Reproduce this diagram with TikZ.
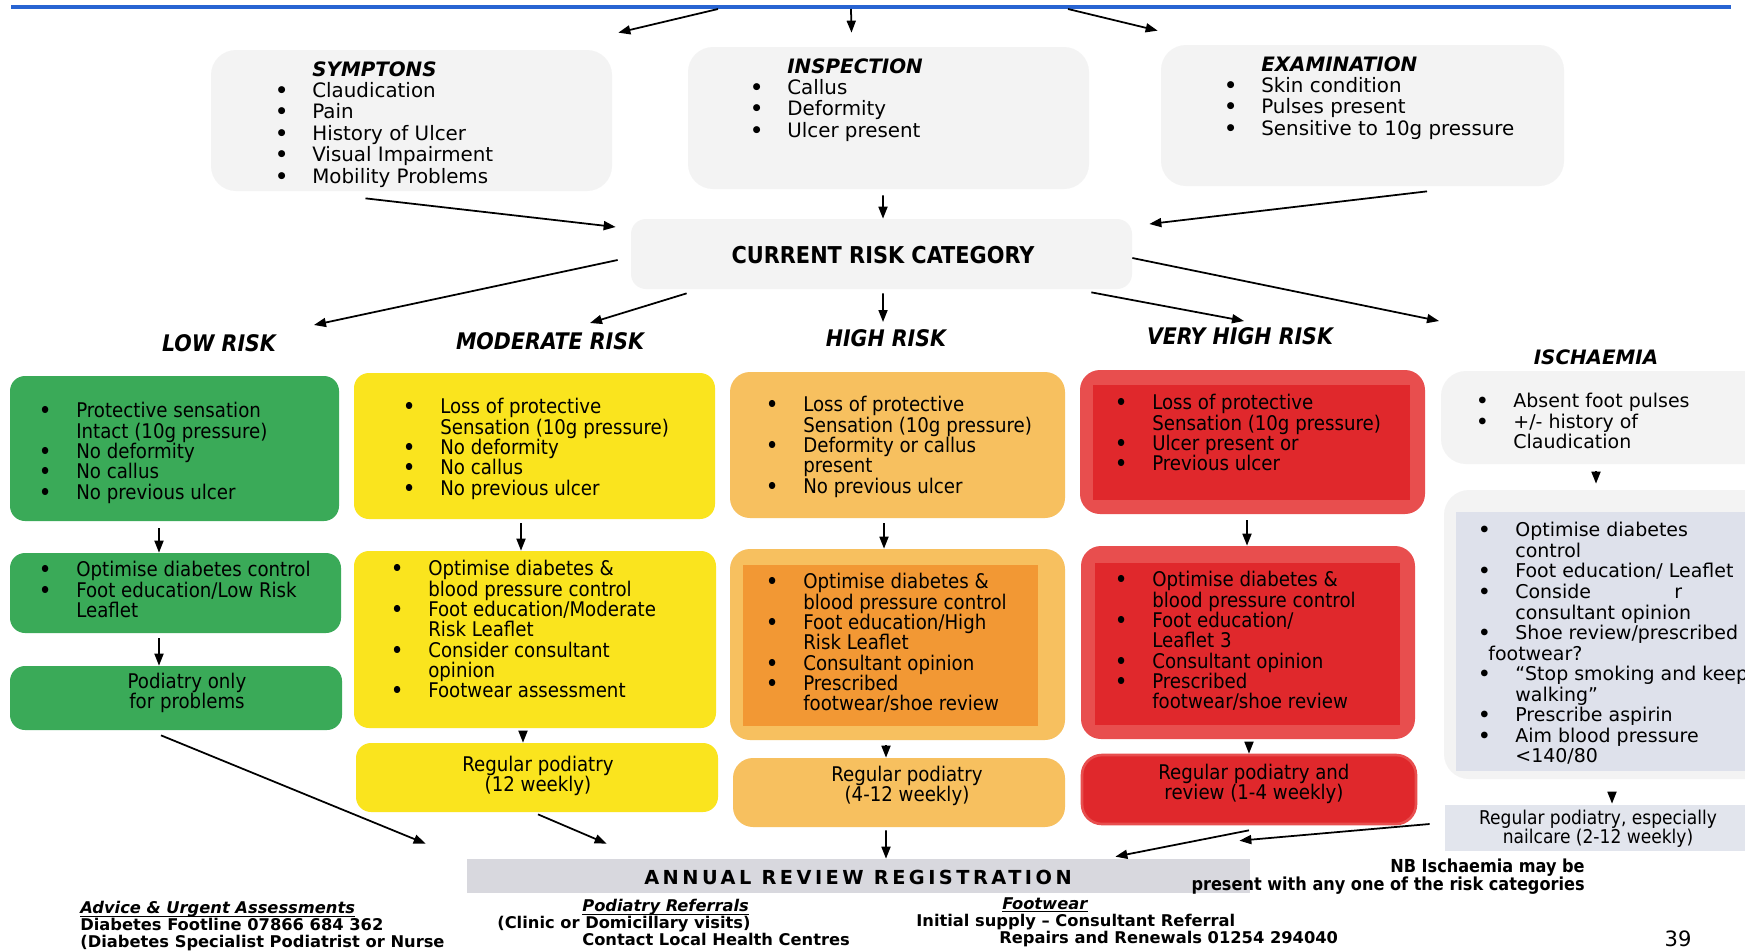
\documentclass[tikz,border=0pt]{standalone}
\usepackage{fontspec}
\setmainfont{DejaVu Sans}
\newfontfamily\tah[Ligatures=TeX]{DejaVu Sans Condensed}
\newfontfamily\tahw[Ligatures=TeX,FakeStretch=1.12]{DejaVu Sans Condensed}
\usetikzlibrary{arrows.meta,fit,calc}

\definecolor{topblue}{RGB}{40,100,210}
\definecolor{boxgrey}{RGB}{243,243,243}
\definecolor{lowgreen}{RGB}{58,170,88}
\definecolor{modyellow}{RGB}{250,228,30}
\definecolor{highlight}{RGB}{247,192,95}
\definecolor{highdark}{RGB}{242,152,52}
\definecolor{vhout}{RGB}{232,78,78}
\definecolor{vhin}{RGB}{224,40,44}
\definecolor{iscblue}{RGB}{222,225,235}
\definecolor{anngrey}{RGB}{216,216,222}

\newcommand{\bl}{\makebox[0.74cm][l]{\textbf{\textbullet}}}
\newcommand{\ct}{\hspace*{0.74cm}}
\newcommand{\tightlines}{\lineskiplimit=-20pt\relax\lineskip=0pt\relax}
\newcommand{\ftitle}[1]{\underline{\smash{\textit{#1}}}\vphantom{\textit{#1}}}

\tikzset{
  arr/.style={-{Triangle[length=2.4mm,width=1.8mm]}, line width=1pt},
  greybox/.style={fill=boxgrey, rounded corners=0.5cm, inner sep=0pt},
  lowbox/.style={fill=lowgreen, rounded corners=0.3cm, inner sep=0pt},
  modbox/.style={fill=modyellow, rounded corners=0.3cm, inner sep=0pt},
  highbox/.style={fill=highlight, rounded corners=0.4cm, inner sep=0pt},
  vhbox/.style={fill=vhout, rounded corners=0.4cm, inner sep=0pt},
  inbox/.style={inner sep=0pt},
  vtext/.style={inner sep=0pt, align=left, anchor=north west, font=\fontsize{11.3}{12.2}\selectfont},
  itext/.style={inner sep=0pt, align=left, anchor=north west, font=\fontsize{10.8}{11.7}\selectfont},
  ttext/.style={inner sep=0pt, align=left, anchor=north west, font=\tah\fontsize{11.5}{11.6}\selectfont},
  ctext/.style={inner sep=0pt, align=center, font=\tah\fontsize{11.5}{11.6}\selectfont},
  riskhead/.style={inner sep=0pt, font=\tah\bfseries\itshape\fontsize{13}{14}\selectfont},
  foot/.style={inner sep=0pt, align=left, anchor=north west, font=\tahw\bfseries\fontsize{9.2}{9.7}\selectfont\tightlines}
}

\begin{document}
\begin{tikzpicture}[x=0.02cm,y=-0.02cm]
\clip (0,0) rectangle (1745,951);
\fill[white] (0,0) rectangle (1745,951);

% top line
\draw[topblue, line width=1.8pt] (11,7) -- (1731,7);
\coordinate (ta) at (718,9);
\coordinate (tb) at (851,9);
\coordinate (tc) at (1068,9);

% assessment
\node[greybox, fit={(211,50)(612,191)}] (sym) {};
\node[greybox, fit={(688,47)(1089,189)}] (insp) {};
\node[greybox, fit={(1161,45)(1564,186)}] (exam) {};
\node[vtext] (symt) at (275,61) {\ct\textbf{\textit{SYMPTONS}}\\ \bl Claudication\\ \bl Pain\\ \bl History of Ulcer\\ \bl Visual Impairment\\ \bl Mobility Problems};
\node[vtext] (inspt) at (750,58) {\ct\textbf{\textit{INSPECTION}}\\ \bl Callus\\ \bl Deformity\\ \bl Ulcer present};
\node[vtext] (examt) at (1224,56) {\ct\textbf{\textit{EXAMINATION}}\\ \bl Skin condition\\ \bl Pulses present\\ \bl Sensitive to 10g pressure};

\node[greybox, rounded corners=0.3cm, fit={(631,219)(1132,289)}] (cur) {};
\node[inner sep=0pt, font=\tah\bfseries\fontsize{13.2}{14}\selectfont] (curt) at (883,255) {CURRENT RISK CATEGORY};

% headings
\node[riskhead] (lowh) at (219,343) {LOW RISK};
\node[riskhead] (modh) at (550,341) {MODERATE RISK};
\node[riskhead] (highh) at (886,338) {HIGH RISK};
\node[riskhead] (vhh) at (1240,336) {VERY HIGH RISK};
\node[inner sep=0pt, font=\bfseries\itshape\fontsize{11.3}{13}\selectfont] (isch) at (1596,357) {ISCHAEMIA};

% low risk
\node[lowbox, fit={(10,376)(339,521)}] (low1) {};
\node[lowbox, fit={(10,553)(341,633)}] (low2) {};
\node[lowbox, fit={(10,666)(342,730)}] (low3) {};
\node[ttext] (low1t) at (39,402) {\bl Protective sensation\\ \ct Intact (10g pressure)\\ \bl No deformity\\ \bl No callus\\ \bl No previous ulcer};
\node[ttext] (low2t) at (39,561) {\bl Optimise diabetes control\\ \bl Foot education/Low Risk\\ \ct Leaflet};
\node[ctext] (low3t) at (187,693) {Podiatry only\\for problems};

% moderate risk
\node[modbox, fit={(354,373)(715,519)}] (mod1) {};
\node[modbox, fit={(354,551)(716,728)}] (mod2) {};
\node[modbox, fit={(356,743)(718,812)}] (mod3) {};
\node[ttext] (mod1t) at (403,398) {\bl Loss of protective\\ \ct Sensation (10g pressure)\\ \bl No deformity\\ \bl No callus\\ \bl No previous ulcer};
\node[ttext] (mod2t) at (391,560) {\bl Optimise diabetes \&\\ \ct blood pressure control\\ \bl Foot education/Moderate\\ \ct Risk Leaflet\\ \bl Consider consultant\\ \ct opinion\\ \bl Footwear assessment};
\node[ctext] (mod3t) at (538,776) {Regular podiatry\\(12 weekly)};

% high risk
\node[highbox, fit={(730,372)(1065,518)}] (high1) {};
\node[highbox, fit={(730,549)(1065,740)}] (high2) {};
\node[inbox, fill=highdark, fit={(743,565)(1038,726)}] (high2in) {};
\node[highbox, fit={(733,758)(1065,827)}] (high3) {};
\node[ttext] (high1t) at (766,396) {\bl Loss of protective\\ \ct Sensation (10g pressure)\\ \bl Deformity or callus\\ \ct present\\ \bl No previous ulcer};
\node[ttext] (high2t) at (766,573) {\bl Optimise diabetes \&\\ \ct blood pressure control\\ \bl Foot education/High\\ \ct Risk Leaflet\\ \bl Consultant opinion\\ \bl Prescribed\\ \ct footwear/shoe review};
\node[ctext] (high3t) at (907,786) {Regular podiatry\\(4-12 weekly)};

% very high risk
\node[vhbox, fit={(1080,370)(1425,514)}] (vh1) {};
\node[inbox, fill=vhin, fit={(1093,385)(1410,500)}] (vh1in) {};
\node[vhbox, fit={(1081,546)(1415,739)}] (vh2) {};
\node[inbox, fill=vhin, fit={(1095,563)(1400,725)}] (vh2in) {};
\node[vhbox, fill=vhin, draw=vhout, line width=1.5pt, fit={(1082,755)(1416,824)}] (vh3) {};
\node[ttext] (vh1t) at (1115,394) {\bl Loss of protective\\ \ct Sensation (10g pressure)\\ \bl Ulcer present or\\ \bl Previous ulcer};
\node[ttext] (vh2t) at (1115,571) {\bl Optimise diabetes \&\\ \ct blood pressure control\\ \bl Foot education/\\ \ct Leaflet 3\\ \bl Consultant opinion\\ \bl Prescribed\\ \ct footwear/shoe review};
\node[ctext] (vh3t) at (1254,784) {Regular podiatry and\\review (1-4 weekly)};

% ischaemia
\node[greybox, fit={(1441,371)(1770,464)}] (isc1) {};
\node[greybox, fit={(1444,490)(1770,779)}] (isc2) {};
\node[inbox, fill=iscblue, fit={(1456,512)(1770,771)}] (isc2in) {};
\node[inbox, fill=iscblue!80!boxgrey, fit={(1445,805)(1770,851)}] (isc3) {};
\node[itext] (isc1t) at (1476,393) {\bl Absent foot pulses\\ \bl +/- history of\\ \ct Claudication};
\node[itext] (isc2t) at (1478,522) {\bl Optimise diabetes\\ \ct control\\ \bl Foot education/ Leaflet\\ \bl \makebox[3.18cm][l]{Conside}r\\ \ct consultant opinion\\ \bl Shoe review/prescribed\\ \hspace*{0.2cm}footwear?\\ \bl “Stop smoking and keep\\ \ct walking”\\ \bl Prescribe aspirin\\ \bl Aim blood pressure\\ \ct <140/80};
\node[ctext, font=\tah\fontsize{10.8}{11}\selectfont] (isc3t) at (1598,829) {Regular podiatry, especially\\nailcare (2-12 weekly)};

% annual review
\node[inbox, fill=anngrey, fit={(467,859)(1250,893)}] (ann) {};
\node[inner sep=0pt, font=\bfseries\fontsize{11}{13}\selectfont\addfontfeatures{LetterSpace=18}] (annt) at (858,877) {ANNUAL REVIEW REGISTRATION};
\node[inner sep=0pt, align=right, anchor=north east, font=\tah\bfseries\fontsize{10.2}{10.2}\selectfont] (nb) at (1585,859) {NB Ischaemia may be\\present with any one of the risk categories};

% footer
\node[foot] (adv) at (80,901) {\ftitle{Advice \& Urgent Assessments}\\Diabetes Footline 07866 684 362\\(Diabetes Specialist Podiatrist or Nurse};
\node[foot] (pod) at (497,899) {\hspace*{1.7cm}\ftitle{Podiatry Referrals}\\(Clinic or Domicillary visits)\\\hspace*{1.7cm}Contact Local Health Centres};
\node[foot] (fw) at (916,897) {\hspace*{1.72cm}\ftitle{Footwear}\\Initial supply – Consultant Referral\\\hspace*{1.66cm}Repairs and Renewals 01254 294040};
\node[inner sep=0pt, font=\fontsize{12}{14}\selectfont] (pg) at (1678,939) {39};

% arrows
\draw[arr] (ta) -- ($(sym.north east)+(6,-17)$);
\draw[arr] (tb) -- ($(insp.north)+(-37,-14)$);
\draw[arr] (tc) -- ($(exam.north west)+(-3,-14)$);

\draw[arr] ($(sym.south)+(-46,7)$) -- ($(cur.west)+(-15,-27)$);
\draw[arr] ($(insp.south)+(-5.5,6)$) -- ($(cur.north)+(1.5,0)$);
\draw[arr] ($(exam.south)+(64.5,5)$) -- ($(cur.east)+(17,-30)$);

\draw[arr] ($(cur.west)+(-13,6)$) -- ($(lowh)+(95,-18)$);
\draw[arr] ($(cur.south west)+(56,4)$) -- ($(modh)+(40,-18)$);
\draw[arr] ($(cur.south)+(1.5,4)$) -- ($(highh)+(-3,-16)$);
\draw[arr] ($(cur.south east)+(-41,3)$) -- ($(vhh)+(4,-15)$);
\draw[arr] ($(cur.east)+(0,4)$) -- ($(isch)+(-157,-36)$);

\draw[arr] ($(low1.south)+(-15.5,7)$) -- ($(low2.north)+(-16.5,0)$);
\draw[arr] ($(low2.south)+(-16.5,5)$) -- ($(low3.north)+(-17,0)$);
\draw[arr] ($(low3.south)+(-15,5)$) -- ($(ann.north west)+(-41,-15)$);

\draw[arr] ($(mod1.south)+(-13.5,4)$) -- ($(mod2.north)+(-14,0)$);
\draw[arr] ($(mod2.south)+(-12,4)$) -- ($(mod3.north)+(-14,0)$);
\draw[arr] ($(mod3.south)+(1,2)$) -- ($(ann.north west)+(140,-15)$);

\draw[arr] ($(high1.south)+(-13.5,5)$) -- ($(high2.north)+(-13.5,0)$);
\draw[arr] ($(high2.south)+(-11.5,5)$) -- ($(high3.north)+(-13,0)$);
\draw[arr] ($(high3.south)+(-13,3)$) -- ($(ann.north)+(27.5,0)$);

\draw[arr] ($(vh1.south)+(-5.5,6)$) -- ($(vh2.north)+(-1,0)$);
\draw[arr] ($(vh2.south)+(1,4)$) -- ($(vh3.north)+(0,0)$);
\draw[arr] ($(vh3.south)+(0,5)$) -- ($(ann.north east)+(-135,-2)$);

\draw[arr] ($(isc1.south)+(-9.5,7)$) -- ($(isc2.north)+(-11,-6)$);
\draw[arr] ($(isc2.south)+(5,13)$) -- ($(isc3.north)+(4.5,-1)$);
\draw[arr] ($(isc3.west)+(-15,-4)$) -- ($(ann.north east)+(-11,-18)$);
\end{tikzpicture}
\end{document}
